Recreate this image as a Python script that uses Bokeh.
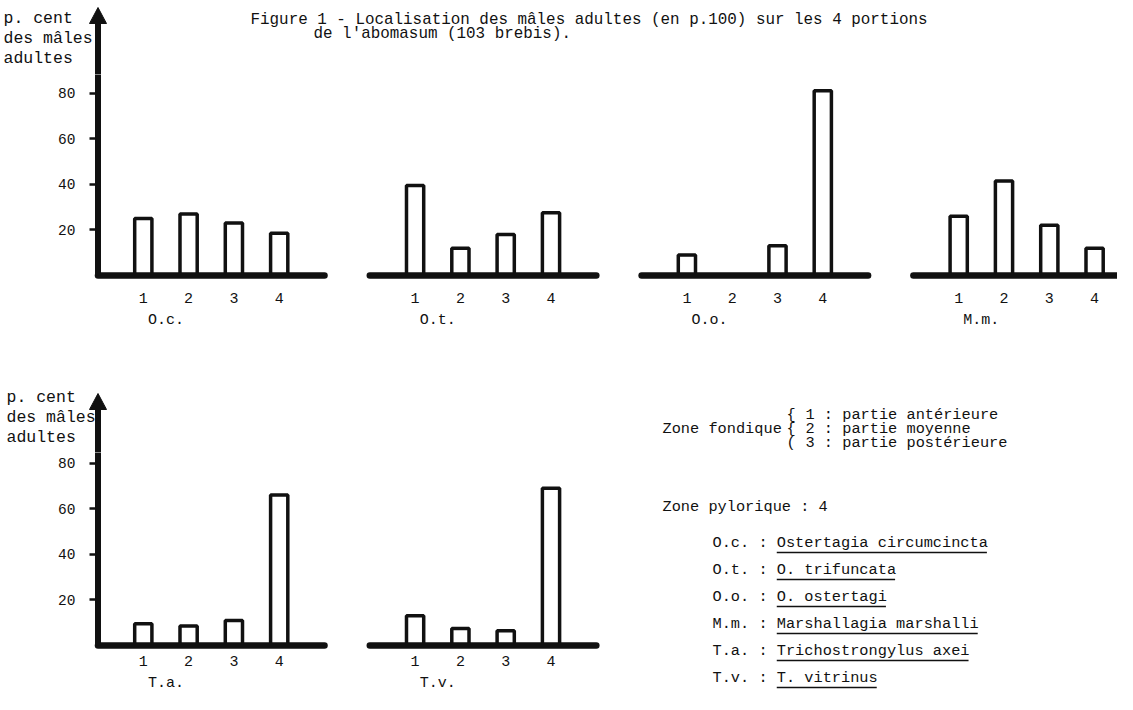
from bokeh.plotting import figure
from bokeh.models import Range1d, LinearAxis, FixedTicker, Label, ColumnDataSource
from bokeh.layouts import column, row
from bokeh.embed import file_html
from bokeh.resources import INLINE

# ---------------- data ----------------
categories = ["1", "2", "3", "4"]
top_panels = ["O.c.", "O.t.", "O.o.", "M.m."]
bottom_panels = ["T.a.", "T.v."]
pct_oc = [25, 27, 23, 18.5]
pct_ot = [39.5, 12, 18, 27.5]
pct_oo = [9, 0, 13, 81]
pct_mm = [26, 41.5, 22, 12]
pct_ta = [9.5, 8.5, 11, 66]
pct_tv = [13, 7.5, 6.5, 69]
y_ticks = [20, 40, 60, 80]

title_lines = ["Figure 1 - Localisation des mâles adultes (en p.100) sur les 4 portions",
               "de l'abomasum (103 brebis)."]
y_label_lines = ["p. cent", "des mâles", "adultes"]
zone_fundic = "Zone fondique"
fundic_parts = ["1 : partie antérieure", "2 : partie moyenne", "3 : partie postérieure"]
brace_parts = ["{", "{", "("]
zone_pyloric = "Zone pylorique : 4"
species_codes = ["O.c.", "O.t.", "O.o.", "M.m.", "T.a.", "T.v."]
species_names = ["Ostertagia circumcincta", "O. trifuncata", "O. ostertagi",
                 "Marshallagia marshalli", "Trichostrongylus axei", "T. vitrinus"]

# ---------------- styling / geometry (page pixels) ----------------
FONT = "Liberation Mono"
INK = "#111111"
W, H = 1117, 694
SLOT = 45.3            # px per category slot
PX_PER_PCT = 2.28      # px per percent
FRAME_LEFT = 89
AXIS_X = 97.5
SPLIT_X = 640
GROUP = len(categories) + 2
HEAD_H, HEAD_HW = 16, 8.5

COMMON = dict(output_backend="svg", toolbar_location=None, x_axis_type=None, y_axis_type=None,
              outline_line_color=None, background_fill_color="white", border_fill_color="white",
              frame_align=False)


def label(p, x, y, text, size, **kw):
    p.add_layout(Label(x=x, y=y, text=text, text_font=FONT, text_font_size=f"{size}px",
                       text_baseline="middle", text_align="left", text_color=INK, **kw))


def strip_figure(x0, x1, y0, y1, tip_y, label_x, label_y):
    """Band above a panel: arrow head of the vertical axis and its label."""
    p = figure(width=x1 - x0, height=y1 - y0, x_range=Range1d(x0, x1), y_range=Range1d(y1, y0),
               min_border=0, min_border_left=0, min_border_right=0, min_border_top=0,
               min_border_bottom=0, **COMMON)
    base = tip_y + HEAD_H
    p.segment(x0=[AXIS_X], y0=[y1 + 2], x1=[AXIS_X], y1=[base - 0.5], line_width=6, line_color=INK)
    p.patch(x=[AXIS_X - HEAD_HW, AXIS_X, AXIS_X + HEAD_HW], y=[base, tip_y, base],
            fill_color=INK, line_color=INK, line_width=1)
    for k, line in enumerate(y_label_lines):
        label(p, label_x, label_y + 20 * k, line, 16.5)
    return p


def panel_figure(panels, series, right, fig_top, frame_bottom, fig_bottom, zero, std_cat, std_grp):
    x_range = Range1d(-(AXIS_X - FRAME_LEFT) / SLOT, (right - AXIS_X) / SLOT)
    y_range = Range1d(-(frame_bottom - zero) / PX_PER_PCT, (zero - fig_top) / PX_PER_PCT)
    p = figure(width=right, height=fig_bottom - fig_top, x_range=x_range, y_range=y_range,
               min_border_left=FRAME_LEFT, min_border_right=0, min_border_top=0,
               min_border_bottom=fig_bottom - frame_bottom, **COMMON)

    xs, tops = [], []
    for i, vals in enumerate(series):
        for c, v in zip(categories, vals):
            xs.append(GROUP * i + int(c))
            tops.append(v)
    src = ColumnDataSource(dict(x=xs, top=tops))
    p.vbar(x="x", top="top", bottom=0, width=0.38, source=src,
           fill_color="white", line_color=INK, line_width=3.5)

    n = len(panels)
    p.segment(x0=[GROUP * i for i in range(n)], x1=[GROUP * i + len(categories) + 1 for i in range(n)],
              y0=[0] * n, y1=[0] * n, line_width=6.5, line_color=INK, line_cap="round")
    # vertical axis shaft (continues the arrow of the band above)
    p.segment(x0=[0], y0=[0], x1=[0], y1=[y_range.end + 2], line_width=6, line_color=INK)

    yax = LinearAxis(ticker=FixedTicker(ticks=y_ticks), axis_line_color=None,
                     major_tick_in=7, major_tick_out=0, major_tick_line_width=2.5,
                     major_tick_line_color=INK, minor_tick_line_color=None,
                     major_label_standoff=14, major_label_text_font=FONT,
                     major_label_text_font_size="14.5px", major_label_text_color=INK)
    p.add_layout(yax, "left")

    tick_pos = [GROUP * i + int(c) for i in range(n) for c in categories]
    overrides = {GROUP * i + int(c): c for i in range(n) for c in categories}
    xax = LinearAxis(ticker=FixedTicker(ticks=tick_pos), major_label_overrides=overrides,
                     axis_line_color=None, major_tick_line_color=None, major_tick_in=0,
                     major_tick_out=0, minor_tick_line_color=None,
                     major_label_standoff=std_cat, major_label_text_font=FONT,
                     major_label_text_font_size="15px", major_label_text_color=INK)
    p.add_layout(xax, "below")

    grp_pos = [GROUP * i + 1.5 for i in range(n)]
    gax = LinearAxis(ticker=FixedTicker(ticks=grp_pos),
                     major_label_overrides={GROUP * i + 1.5: name for i, name in enumerate(panels)},
                     axis_line_color=None, major_tick_line_color=None, major_tick_in=0,
                     major_tick_out=0, minor_tick_line_color=None,
                     major_label_standoff=std_grp, major_label_text_font=FONT,
                     major_label_text_font_size="15px", major_label_text_color=INK)
    p.add_layout(gax, "below")
    return p


# top band: title + arrow head + axis label
top_strip = strip_figure(0, W, 0, 74, 7, 3, 18)
label(top_strip, 250, 19, title_lines[0], 15.9)
label(top_strip, 313, 33, title_lines[1], 15.9)

top_panel = panel_figure(top_panels, [pct_oc, pct_ot, pct_oo, pct_mm], W,
                         fig_top=74, frame_bottom=279, fig_bottom=380, zero=275, std_cat=13, std_grp=6)

bottom_strip = strip_figure(0, SPLIT_X, 380, 452, 393, 6, 397)
bottom_panel = panel_figure(bottom_panels, [pct_ta, pct_tv], SPLIT_X,
                            fig_top=452, frame_bottom=649, fig_bottom=H, zero=645, std_cat=6, std_grp=6)

# legend band
leg = figure(width=W - SPLIT_X, height=H - 380, x_range=Range1d(SPLIT_X, W), y_range=Range1d(H, 380),
             min_border=0, min_border_left=0, min_border_right=0, min_border_top=0,
             min_border_bottom=0, **COMMON)
LEG_SIZE = 15.3
ADV = LEG_SIZE * 0.6
fundic_y = [414, 428, 442]
label(leg, 662, fundic_y[1], zone_fundic, LEG_SIZE)
for yy, b, part in zip(fundic_y, brace_parts, fundic_parts):
    label(leg, 786, yy, b, LEG_SIZE)
    label(leg, 805, yy, part, LEG_SIZE)
label(leg, 662, 506, zone_pyloric, LEG_SIZE)

species_y = [542, 569, 596, 623, 650, 677]
code_x = 712
name_x = code_x + 7 * ADV
for yy, code, name in zip(species_y, species_codes, species_names):
    label(leg, code_x, yy, f"{code} : {name}", LEG_SIZE)
leg.segment(x0=[name_x] * len(species_names),
            x1=[name_x + len(nm) * ADV - 1 for nm in species_names],
            y0=[yy + 10 for yy in species_y], y1=[yy + 10 for yy in species_y],
            line_width=1.5, line_color=INK)

layout = column(top_strip, top_panel, row(column(bottom_strip, bottom_panel), leg))
open("out.html", "w").write(file_html(layout, INLINE))
